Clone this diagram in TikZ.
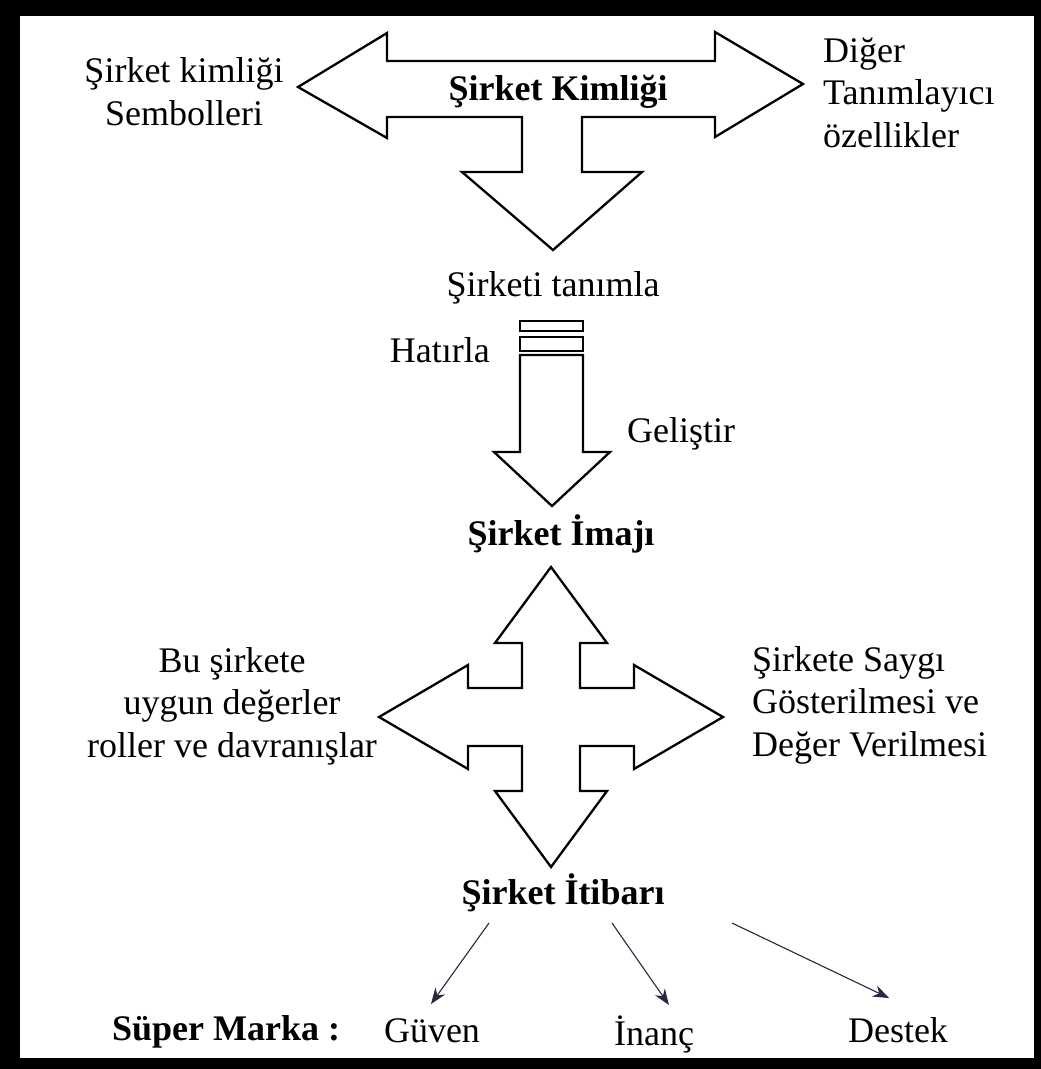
\documentclass[tikz,border=0pt]{standalone}
\usepackage{fontspec}
\setmainfont{Liberation Serif}
\usepackage{tikz}
\usetikzlibrary{arrows.meta}
\definecolor{linkcol}{RGB}{40,40,64}

\begin{document}
\begin{tikzpicture}[x=1pt,y=-1pt,
    every node/.style={inner sep=0pt,font=\fontsize{36}{42.5}\selectfont},
    lbl/.style={anchor=base},
    head/.style={anchor=base,font=\fontsize{36}{42.5}\selectfont\bfseries},
    blockarrow/.style={draw=black,fill=white,line width=2.3pt,line join=miter},
    link/.style={draw=linkcol,line width=1.1pt,-{Stealth[length=16pt,width=12pt]}}]

    \useasboundingbox (0,0) rectangle (1041,1069);
    \fill[black] (0,0) rectangle (1041,1069);
    \fill[white] (20,16) rectangle (1034,1058);

    \draw[blockarrow] (298,87) -- (387,33) -- (387,61) -- (715,61) -- (715,32) -- (803,84)
        -- (715,137) -- (715,117) -- (582,117) -- (582,172) -- (642,172) -- (553,250)
        -- (462,172) -- (522,172) -- (522,117) -- (387,117) -- (387,138) -- cycle;

    \draw[blockarrow] (520,321) rectangle (583,331);
    \draw[blockarrow] (520,337) rectangle (583,351);
    \draw[blockarrow] (520,355) -- (583,355) -- (583,452) -- (610,452) -- (552,506)
        -- (494,452) -- (520,452) -- cycle;

    \draw[blockarrow] (551,567) -- (607,643) -- (580,643) -- (580,688) -- (634,688) -- (634,665)
        -- (723,717) -- (634,769) -- (634,746) -- (580,746) -- (580,791) -- (607,791)
        -- (551,867) -- (495,791) -- (522,791) -- (522,746) -- (468,746) -- (468,769)
        -- (379,717) -- (468,665) -- (468,688) -- (522,688) -- (522,643) -- (495,643) -- cycle;

    \node[head] (kimlik) at (558,100) {Şirket Kimliği};
    \node[lbl,align=center] (semboller) at (184,125) {Şirket kimliği\\Sembolleri};
    \node[lbl,anchor=base west,align=left] (diger) at (823,147) {Diğer\\Tanımlayıcı\\özellikler};

    \node[lbl] (tanimla) at (553,296) {Şirketi tanımla};
    \node[lbl,anchor=base east] (hatirla) at (490,362) {Hatırla};
    \node[lbl,anchor=base west] (gelistir) at (627,442) {Geliştir};
    \node[head] (imaj) at (561,545) {Şirket İmajı};

    \node[lbl,align=center] (roller) at (232,757) {Bu şirkete\\uygun değerler\\roller ve davranışlar};
    \node[lbl,anchor=base west,align=left] (saygi) at (752,756) {Şirkete Saygı\\Gösterilmesi ve\\Değer Verilmesi};
    \node[head] (itibar) at (563,904) {Şirket İtibarı};

    \node[head,anchor=base west] (super) at (112,1040) {Süper Marka :};
    \node[lbl] (guven) at (432,1042) {Güven};
    \node[lbl] (inanc) at (654,1045) {İnanç};
    \node[lbl] (destek) at (898,1042) {Destek};

    \path ([xshift=-74pt,yshift=-19pt]itibar.base) edge[link] ([xshift=-1pt,yshift=38pt]guven.base)
          ([xshift=49pt,yshift=-19pt]itibar.base)  edge[link] ([xshift=15pt,yshift=40pt]inanc.base)
          ([xshift=169pt,yshift=-19pt]itibar.base) edge[link] ([xshift=-9pt,yshift=44pt]destek.base);

\end{tikzpicture}
\end{document}
